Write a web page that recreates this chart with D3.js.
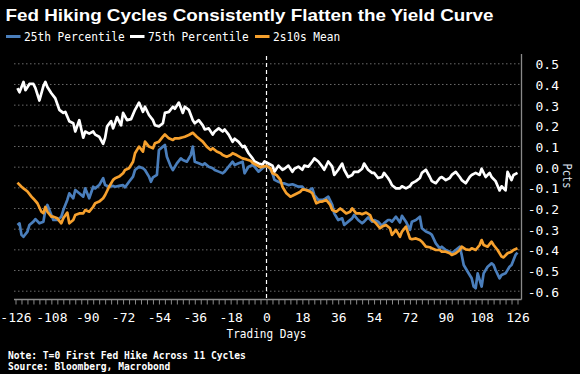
<!DOCTYPE html>
<html>
<head>
<meta charset="utf-8">
<script src="https://cdn.jsdelivr.net/npm/d3@7"></script>
<style>
  body { margin: 0; background: #000; }
  svg { display: block; }
</style>
</head>
<body>
<svg id="chart" width="580" height="374"></svg>
<script>
// Data: [trading day, pcts]
const pct25 = [[-125,-0.282],[-124,-0.274],[-123,-0.33],[-122,-0.339],[-120,-0.314],[-119,-0.282],[-117,-0.266],[-116,-0.254],[-114,-0.274],[-112,-0.266],[-111,-0.21],[-110,-0.185],[-108,-0.234],[-107,-0.258],[-105,-0.258],[-103,-0.242],[-102,-0.21],[-100,-0.161],[-99,-0.129],[-97,-0.153],[-96,-0.113],[-94,-0.129],[-92,-0.145],[-91,-0.105],[-89,-0.153],[-87,-0.097],[-86,-0.105],[-84,-0.089],[-82,-0.056],[-81,-0.089],[-79,-0.097],[-77,-0.093],[-76,-0.097],[-74,-0.093],[-72,-0.089],[-71,-0.1],[-69,-0.073],[-67,-0.048],[-66,-0.016],[-64,0.0],[-62,-0.008],[-61,-0.016],[-59,-0.048],[-58,-0.073],[-57,-0.052],[-55,-0.04],[-54,0.081],[-52,0.097],[-51,0.105],[-50,0.048],[-48,0.0],[-47,-0.016],[-45,0.016],[-43,0.04],[-42,0.032],[-40,0.024],[-38,0.056],[-37,0.097],[-36,0.024],[-34,0.016],[-32,0.008],[-31,0.016],[-29,0.0],[-27,-0.008],[-26,-0.016],[-24,-0.024],[-22,-0.032],[-21,-0.024],[-19,0.0],[-17,0.024],[-16,0.008],[-14,0.016],[-12,0.024],[-11,-0.032],[-9,0.0],[-7,0.008],[-6,0.0],[-4,-0.024],[-2,-0.008],[-1,0.0],[0,0.0],[1,0.003],[3,-0.032],[4,-0.064],[6,-0.073],[8,-0.081],[9,-0.081],[11,-0.089],[13,-0.085],[14,-0.089],[16,-0.097],[18,-0.097],[19,-0.11],[21,-0.116],[23,-0.105],[24,-0.137],[26,-0.161],[28,-0.161],[29,-0.158],[31,-0.145],[33,-0.185],[34,-0.226],[36,-0.258],[38,-0.25],[39,-0.282],[41,-0.266],[43,-0.25],[44,-0.234],[46,-0.258],[48,-0.274],[49,-0.266],[51,-0.245],[53,-0.266],[54,-0.258],[56,-0.266],[58,-0.287],[59,-0.274],[61,-0.258],[62,-0.258],[63,-0.266],[65,-0.242],[67,-0.27],[68,-0.238],[70,-0.266],[72,-0.306],[73,-0.266],[75,-0.258],[77,-0.242],[78,-0.298],[80,-0.314],[82,-0.322],[83,-0.33],[85,-0.371],[87,-0.395],[88,-0.387],[90,-0.403],[92,-0.411],[93,-0.419],[95,-0.403],[97,-0.387],[98,-0.427],[99,-0.476],[101,-0.508],[103,-0.54],[104,-0.58],[105,-0.588],[106,-0.516],[108,-0.58],[109,-0.516],[111,-0.484],[113,-0.468],[114,-0.476],[115,-0.5],[117,-0.54],[118,-0.524],[120,-0.516],[122,-0.484],[123,-0.476],[125,-0.427],[126,-0.416]];

const pct75 = [[-125,0.38],[-124,0.36],[-122,0.41],[-121,0.37],[-119,0.40],[-117,0.40],[-116,0.38],[-114,0.32],[-112,0.39],[-111,0.41],[-110,0.385],[-108,0.355],[-106,0.33],[-104,0.275],[-102,0.26],[-101,0.265],[-99,0.22],[-97,0.21],[-96,0.17],[-94,0.225],[-92,0.14],[-91,0.17],[-89,0.16],[-87,0.17],[-86,0.155],[-84,0.145],[-82,0.11],[-81,0.14],[-80,0.195],[-78,0.22],[-77,0.185],[-75,0.24],[-73,0.20],[-72,0.26],[-70,0.225],[-68,0.23],[-66,0.275],[-64,0.31],[-62,0.265],[-61,0.29],[-59,0.25],[-57,0.225],[-56,0.20],[-54,0.195],[-52,0.21],[-51,0.26],[-49,0.265],[-47,0.29],[-46,0.28],[-44,0.31],[-42,0.26],[-41,0.29],[-39,0.275],[-37,0.225],[-36,0.21],[-34,0.225],[-32,0.20],[-31,0.18],[-29,0.185],[-27,0.155],[-26,0.17],[-24,0.185],[-22,0.17],[-21,0.18],[-19,0.155],[-17,0.12],[-16,0.135],[-14,0.12],[-12,0.095],[-11,0.10],[-9,0.065],[-7,0.04],[-6,0.025],[-4,0.015],[-2,0.01],[-1,0.025],[1,0.015],[3,0.005],[4,-0.025],[6,0.005],[8,-0.015],[9,-0.01],[11,0.005],[13,-0.025],[14,-0.01],[16,0.0],[18,-0.015],[19,0.005],[21,0.0],[23,0.025],[24,0.04],[26,0.025],[28,0.0],[29,-0.015],[31,0.025],[33,0.0],[34,-0.04],[36,-0.015],[38,0.015],[39,-0.015],[41,-0.05],[43,-0.04],[44,-0.025],[46,-0.025],[48,-0.01],[49,0.015],[51,-0.015],[53,-0.03],[54,-0.03],[56,-0.055],[58,-0.05],[59,-0.03],[61,-0.055],[62,-0.07],[63,-0.09],[65,-0.105],[67,-0.105],[68,-0.095],[70,-0.105],[72,-0.095],[73,-0.08],[75,-0.07],[77,-0.055],[78,-0.03],[80,-0.015],[82,-0.05],[83,-0.07],[85,-0.08],[87,-0.055],[88,-0.05],[90,-0.065],[92,-0.055],[93,-0.04],[95,-0.025],[97,-0.05],[98,-0.065],[100,-0.08],[102,-0.05],[103,-0.04],[105,-0.03],[107,-0.04],[108,-0.01],[110,-0.05],[112,-0.03],[113,-0.05],[115,-0.07],[117,-0.115],[118,-0.095],[120,-0.115],[121,-0.025],[123,-0.065],[124,-0.04],[126,-0.03]];

const mean2s10s = [[-125,-0.077],[-123,-0.097],[-122,-0.105],[-120,-0.12],[-118,-0.145],[-117,-0.155],[-115,-0.177],[-113,-0.218],[-112,-0.225],[-111,-0.195],[-110,-0.218],[-108,-0.242],[-107,-0.242],[-105,-0.25],[-103,-0.274],[-102,-0.25],[-100,-0.222],[-99,-0.274],[-97,-0.258],[-96,-0.234],[-94,-0.226],[-92,-0.226],[-91,-0.21],[-89,-0.218],[-87,-0.194],[-86,-0.177],[-84,-0.169],[-82,-0.153],[-81,-0.137],[-79,-0.097],[-77,-0.064],[-76,-0.056],[-74,-0.048],[-72,-0.032],[-71,-0.016],[-69,-0.008],[-67,0.024],[-66,0.065],[-64,0.097],[-62,0.073],[-61,0.121],[-59,0.097],[-57,0.089],[-56,0.113],[-54,0.121],[-52,0.145],[-51,0.156],[-49,0.137],[-47,0.129],[-46,0.137],[-44,0.137],[-42,0.142],[-41,0.145],[-39,0.153],[-37,0.164],[-35,0.145],[-33,0.129],[-32,0.121],[-30,0.097],[-28,0.081],[-27,0.089],[-25,0.073],[-23,0.065],[-22,0.056],[-20,0.048],[-18,0.056],[-17,0.065],[-15,0.056],[-13,0.045],[-12,0.04],[-10,0.035],[-8,0.029],[-7,0.019],[-5,0.008],[-3,-0.003],[-2,0.0],[0,0.004],[2,-0.008],[3,-0.032],[5,-0.04],[7,-0.064],[8,-0.097],[10,-0.129],[12,-0.145],[13,-0.141],[15,-0.131],[17,-0.121],[18,-0.11],[20,-0.113],[22,-0.121],[23,-0.129],[25,-0.177],[27,-0.169],[28,-0.169],[30,-0.161],[32,-0.185],[33,-0.21],[35,-0.218],[37,-0.202],[38,-0.21],[40,-0.226],[42,-0.218],[43,-0.202],[45,-0.226],[47,-0.226],[48,-0.23],[50,-0.222],[52,-0.234],[53,-0.258],[55,-0.274],[57,-0.298],[58,-0.29],[60,-0.282],[62,-0.298],[63,-0.33],[65,-0.306],[67,-0.339],[68,-0.314],[70,-0.29],[72,-0.347],[73,-0.351],[75,-0.347],[77,-0.355],[78,-0.363],[80,-0.387],[82,-0.39],[83,-0.395],[85,-0.403],[87,-0.403],[88,-0.411],[90,-0.411],[92,-0.419],[93,-0.427],[95,-0.419],[97,-0.403],[98,-0.387],[100,-0.4],[102,-0.403],[103,-0.395],[105,-0.403],[107,-0.379],[108,-0.355],[109,-0.379],[111,-0.387],[113,-0.363],[114,-0.379],[116,-0.403],[118,-0.435],[119,-0.439],[121,-0.419],[123,-0.411],[124,-0.403],[126,-0.395]];

const seriesNames = ["25th Percentile", "75th Percentile", "2s10s Mean"];
const xTicks = [-126, -108, -90, -72, -54, -36, -18, 0, 18, 36, 54, 72, 90, 108, 126];
const yTicks = [0.5, 0.4, 0.3, 0.2, 0.1, 0.0, -0.1, -0.2, -0.3, -0.4, -0.5, -0.6];

const titleText = "Fed Hiking Cycles Consistently Flatten the Yield Curve";
const xTitle = "Trading Days";
const yTitle = "Pcts";
const noteText = "Note: T=0 First Fed Hike Across 11 Cycles";
const sourceText = "Source: Bloomberg, Macrobond";

// layout
const plot = { left: 14, right: 521.5, top: 54, bottom: 299.5 };
const colors = ["#4a7ebb", "#ffffff", "#f6a02d"];
const mono = "'DejaVu Sans Mono', monospace";

const svg = d3.select("#chart");
svg.append("rect").attr("width", 580).attr("height", 374).attr("fill", "#000");

const x = d3.scaleLinear().domain([-126, 126]).range([15.5, 517.5]);
const y = d3.scaleLinear().domain([-0.6, 0.5]).range([290.7, 63.3]);

// title
svg.append("text")
  .attr("x", 5.5).attr("y", 20.7)
  .attr("fill", "#fff")
  .style("font-family", "'Liberation Sans', Arial, sans-serif")
  .style("font-weight", "bold")
  .style("font-size", "17px")
  .attr("textLength", 488).attr("lengthAdjust", "spacingAndGlyphs")
  .text(titleText);

// legend
const legendX = [6, 130, 255];
const legend = svg.append("g");
seriesNames.forEach((name, i) => {
  legend.append("line")
    .attr("x1", legendX[i]).attr("x2", legendX[i] + 14.5)
    .attr("y1", 36.5).attr("y2", 36.5)
    .attr("stroke", colors[i]).attr("stroke-width", 3);
  legend.append("text")
    .attr("x", legendX[i] + 18).attr("y", 40.6)
    .attr("fill", "#fff")
    .style("font-family", mono).style("font-size", "12px")
    .attr("textLength", name.length * 6.72).attr("lengthAdjust", "spacingAndGlyphs")
    .text(name);
});

// gridlines
svg.append("g")
  .attr("transform", `translate(${plot.left},0)`)
  .call(d3.axisLeft(y).tickValues(yTicks).tickSize(-(plot.right - plot.left)).tickFormat(""))
  .call(g => g.select(".domain").remove())
  .call(g => g.selectAll(".tick line")
    .attr("stroke", "#6a6a6a").attr("stroke-dasharray", "1.5,2.5"));

// zero line
svg.append("line")
  .attr("x1", x(0)).attr("x2", x(0))
  .attr("y1", plot.top + 2).attr("y2", plot.bottom)
  .attr("stroke", "#fff").attr("stroke-width", 1.2)
  .attr("stroke-dasharray", "4,3");

// series
const line = d3.line().x(d => x(d[0])).y(d => y(d[1]));
[pct25, pct75, mean2s10s].forEach((s, i) => {
  svg.append("path")
    .datum(s)
    .attr("d", line)
    .attr("fill", "none")
    .attr("stroke", colors[i])
    .attr("stroke-width", 2.7)
    .attr("stroke-linejoin", "round");
});

// bottom axis: minor ticks
svg.append("g")
  .attr("transform", `translate(0,${plot.bottom})`)
  .call(d3.axisBottom(x).tickValues(d3.range(-126, 127, 3)).tickSize(5).tickFormat(""))
  .call(g => g.select(".domain").remove())
  .call(g => g.selectAll(".tick line").attr("stroke", "#8a8a8a"));

// bottom axis: labels
svg.append("g")
  .attr("transform", `translate(0,${plot.bottom})`)
  .call(d3.axisBottom(x).tickValues(xTicks).tickSize(0).tickPadding(12.8).tickFormat(d => String(d)))
  .call(g => g.select(".domain").remove())
  .call(g => g.selectAll("text")
    .attr("fill", "#fff")
    .style("font-family", mono).style("font-size", "13px"));

svg.append("line")
  .attr("x1", plot.left).attr("x2", plot.right)
  .attr("y1", plot.bottom).attr("y2", plot.bottom)
  .attr("stroke", "#8a8a8a").attr("stroke-width", 1.3);

// right axis
svg.append("g")
  .attr("transform", `translate(${plot.right},0)`)
  .call(d3.axisRight(y).tickValues(yTicks).tickSize(0).tickFormat(d => d.toFixed(1)))
  .call(g => g.select(".domain").remove())
  .call(g => g.selectAll("text")
    .attr("x", 37.5).attr("dy", "0.42em")
    .attr("text-anchor", "end")
    .attr("fill", "#fff")
    .style("font-family", mono).style("font-size", "13px"));

svg.append("line")
  .attr("x1", plot.right).attr("x2", plot.right)
  .attr("y1", plot.top).attr("y2", plot.bottom)
  .attr("stroke", "#8a8a8a").attr("stroke-width", 1.3);

// axis titles
svg.append("text")
  .attr("transform", `translate(563,176) rotate(90)`)
  .attr("text-anchor", "middle")
  .attr("fill", "#dde3ee")
  .style("font-family", mono).style("font-size", "12px")
  .attr("textLength", 25).attr("lengthAdjust", "spacingAndGlyphs")
  .text(yTitle);

svg.append("text")
  .attr("x", x(0)).attr("y", 337.5)
  .attr("text-anchor", "middle")
  .attr("fill", "#fff")
  .style("font-family", mono).style("font-size", "12px")
  .attr("textLength", 80).attr("lengthAdjust", "spacingAndGlyphs")
  .text(xTitle);

// footnotes
[noteText, sourceText].forEach((t, i) => {
  svg.append("text")
    .attr("x", 8).attr("y", 358.5 + i * 11.5)
    .attr("fill", "#fff")
    .style("font-family", mono).style("font-size", "10.5px").style("font-weight", "bold")
    .attr("textLength", t.length * 5.8).attr("lengthAdjust", "spacingAndGlyphs")
    .text(t);
});
</script>
</body>
</html>
